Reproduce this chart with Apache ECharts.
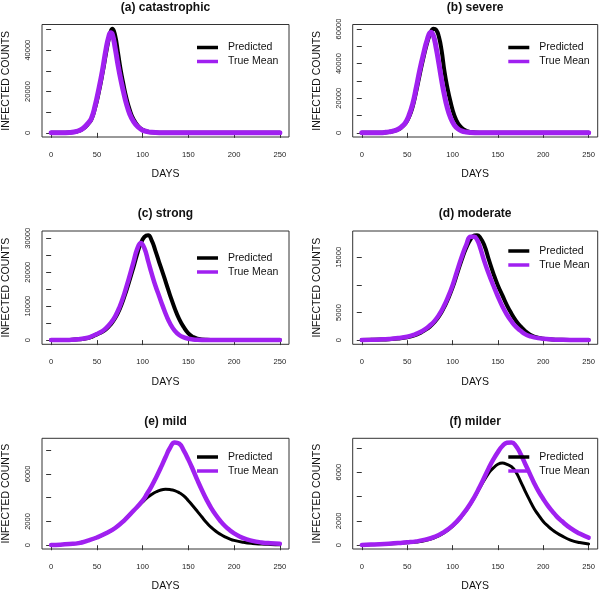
<!DOCTYPE html>
<html><head><meta charset="utf-8">
<script src="https://cdn.jsdelivr.net/npm/echarts@6/dist/echarts.min.js"></script>
<style>html,body{margin:0;padding:0;background:#fff}#c{width:600px;height:593px}</style>
</head><body><div id="c"></div>
<script>
// ---------- DATA ----------
const seriesNames = ['Predicted', 'True Mean'];
const panelTitles = ['(a) catastrophic', '(b) severe', '(c) strong', '(d) moderate', '(e) mild', '(f) milder'];
const xTicks = [0, 50, 100, 150, 200, 250];

const daysA = [0,10,20,25,30,35,40,44,48,52,56,60,63,65,67,70,73,76,79,82,86,90,95,100,105,110,120,130,150,200,250];
const predA = [0,15,130,350,900,2000,4100,6500,12000,19500,28500,38500,45500,49000,50400,47000,39000,30500,23500,17300,11000,6600,3300,1500,650,280,60,12,0,0,0];
const trueA = [0,20,150,400,1000,2200,4500,7000,13000,21000,30000,40500,46500,48400,47500,41000,33000,26000,20000,14500,9000,5500,2800,1300,600,250,50,10,0,0,0];
const yTicksA = [0,10000,20000,30000,40000,50000];
const yLabelsA = [0,20000,40000];

const daysB = [0,10,20,25,30,35,40,44,48,52,56,60,64,68,72,76,79,82,85,88,91,94,98,102,106,110,115,120,130,150,200,250];
const predB = [0,12,90,220,500,1000,1900,3300,5300,9000,15000,24000,34000,43500,52000,58000,60200,59500,55500,47500,36000,27000,17500,10000,5500,2900,1200,500,90,5,0,0];
const trueB = [0,15,100,250,550,1100,2100,3600,5800,10000,16500,26000,36500,45500,53500,58100,56000,49000,40000,30500,22000,15000,8500,4500,2300,1100,450,180,30,0,0,0];
const yTicksB = [0,10000,20000,30000,40000,50000,60000];
const yLabelsB = [0,20000,40000,60000];

const daysC = [0,10,20,30,40,45,50,55,60,65,70,75,80,85,90,94,98,102,106,110,114,118,122,126,130,135,140,145,150,155,160,170,180,200,250];
const predC = [0,10,50,220,600,1050,1700,2300,3200,4600,6500,9200,12800,17000,21500,25300,28500,30400,30900,29300,26300,23000,19800,16500,13200,9400,6200,3800,2000,950,400,70,10,0,0];
const trueC = [0,10,60,250,700,1200,1800,2500,3500,5000,7000,9900,13700,18200,23000,26800,28600,27000,23300,19500,16000,13000,10000,7200,4900,2800,1500,800,400,200,100,20,0,0,0];
const yTicksC = [0,5000,10000,15000,20000,25000,30000];
const yLabelsC = [0,10000,20000,30000];

const daysD = [0,10,20,30,40,50,58,65,70,75,80,85,90,95,100,105,110,115,120,124,127,130,135,140,145,150,155,160,165,170,175,180,185,190,200,210,220,230,250];
const predD = [40,60,100,170,300,520,850,1350,1850,2450,3250,4300,5700,7450,9500,12000,14500,16700,18300,18950,19000,18700,17200,14600,12100,9900,8100,6300,4800,3500,2500,1650,1050,650,280,120,60,30,10];
const trueD = [50,80,130,220,380,620,1000,1500,2000,2650,3450,4550,6000,7800,9900,12500,15000,17200,18700,18700,18200,17000,14300,12000,9900,7900,6100,4600,3400,2400,1700,1100,750,500,250,130,80,50,30];
const yTicksD = [0,5000,10000,15000];
const yLabelsD = [0,5000,15000];

const daysE = [0,10,20,30,40,50,60,70,80,90,100,105,110,115,120,125,130,135,140,145,150,155,160,165,170,175,180,185,190,195,200,210,220,230,240,250];
const predE = [30,50,100,180,390,650,1000,1450,2100,2900,3650,4000,4280,4500,4650,4700,4680,4600,4420,4150,3750,3300,2830,2350,1900,1500,1180,920,710,540,410,250,150,100,70,50];
const trueE = [30,50,100,180,390,650,1000,1450,2100,2900,3750,4350,5000,5750,6550,7400,8200,8650,8550,7950,7200,6350,5450,4600,3820,3130,2540,2040,1620,1280,1000,600,370,240,170,130];
const yTicksE = [0,2000,4000,6000,8000];
const yLabelsE = [0,2000,6000];

const daysF = [0,10,20,30,40,50,60,70,80,90,100,110,120,130,140,145,150,155,160,165,170,175,180,185,190,195,200,205,210,215,220,230,240,250];
const predF = [20,40,70,100,140,190,260,380,600,980,1550,2350,3400,4700,5950,6350,6650,6750,6650,6450,6000,5250,4450,3700,3000,2450,1950,1580,1260,1000,780,420,210,100];
const trueF = [20,50,80,120,170,230,310,450,680,1050,1600,2400,3450,4800,6350,7050,7650,8150,8420,8450,8150,7500,6700,5900,5100,4400,3800,3250,2780,2350,2000,1400,950,620];
const yTicksF = [0,2000,4000,6000,8000];
const yLabelsF = [0,2000,6000];

// ---------- LAYOUT / STYLE ----------
const FONT = '"Liberation Sans", Arial, Helvetica, sans-serif';
const COLORS = ['#000000', '#A020F0'];
const COLS = [{left: 42, width: 247, legendLeft: 197}, {left: 352.7, width: 245, legendLeft: 508.3}];
const ROWS = [
  {top: 24.5, height: 112.5, titleTop: 1.5, legendTops: [41.5, 41.5]},
  {top: 231, height: 113.3, titleTop: 208, legendTops: [252, 245]},
  {top: 438.3, height: 113.4, titleTop: 416, legendTops: [451, 451]}
];

const panels = [
  {days: daysA, pred: predA, truth: trueA, yt: yTicksA, yl: yLabelsA, w: [4, 5]},
  {days: daysB, pred: predB, truth: trueB, yt: yTicksB, yl: yLabelsB, w: [4, 5]},
  {days: daysC, pred: predC, truth: trueC, yt: yTicksC, yl: yLabelsC, w: [4, 4.5]},
  {days: daysD, pred: predD, truth: trueD, yt: yTicksD, yl: yLabelsD, w: [4, 4.5]},
  {days: daysE, pred: predE, truth: trueE, yt: yTicksE, yl: yLabelsE, w: [3, 4.5]},
  {days: daysF, pred: predF, truth: trueF, yt: yTicksF, yl: yLabelsF, w: [3, 4.5]}
];

const grid = [], xAxis = [], yAxis = [], series = [], title = [], legend = [];
panels.forEach((p, i) => {
  const row = ROWS[Math.floor(i / 2)], col = COLS[i % 2];
  grid.push({left: col.left, top: row.top, width: col.width, height: row.height,
    show: true, borderColor: '#333', borderWidth: 1, backgroundColor: 'transparent'});
  const all = p.pred.concat(p.truth);
  const lo = Math.min(...all), hi = Math.max(...all), r = hi - lo;
  xAxis.push({type: 'value', gridIndex: i, min: -10, max: 260,
    axisLine: {show: false}, splitLine: {show: false},
    axisTick: {show: true, inside: false, length: 5, customValues: xTicks, lineStyle: {color: '#333', width: 1}},
    axisLabel: {customValues: xTicks, fontSize: 7.6, margin: 14, color: '#222', fontFamily: FONT},
    name: 'DAYS', nameLocation: 'middle', nameGap: 32,
    nameTextStyle: {fontSize: 10.5, color: '#111', fontFamily: FONT}});
  yAxis.push({type: 'value', gridIndex: i, min: lo - 0.04 * r, max: hi + 0.04 * r,
    axisLine: {show: false}, splitLine: {show: false},
    axisTick: {show: true, inside: false, length: 5, customValues: p.yt, lineStyle: {color: '#333', width: 1}},
    axisLabel: {customValues: p.yl, rotate: 90, fontSize: 7.5, margin: 10, color: '#222',
      fontFamily: FONT, formatter: v => String(v)},
    name: 'INFECTED COUNTS', nameLocation: 'middle', nameGap: 30,
    nameTextStyle: {fontSize: 10.5, color: '#111', fontFamily: FONT}});
  [p.pred, p.truth].forEach((vals, k) => {
    series.push({type: 'line', name: seriesNames[k], xAxisIndex: i, yAxisIndex: i,
      data: p.days.map((d, j) => [d, vals[j]]),
      showSymbol: false, symbol: 'none', smooth: 0.5,
      color: COLORS[k], lineStyle: {color: COLORS[k], width: p.w[k], cap: 'round', join: 'round'},
      silent: true, z: 2 + k});
  });
  title.push({text: panelTitles[i], left: col.left + col.width / 2, textAlign: 'center',
    top: row.titleTop, padding: 0,
    textStyle: {fontSize: 12, fontWeight: 'bold', color: '#111', fontFamily: FONT}});
  legend.push({left: col.legendLeft, top: row.legendTops[i % 2], orient: 'vertical',
    data: seriesNames, icon: 'rect', itemWidth: 21, itemHeight: 3.5, itemGap: 2, padding: 0,
    selectedMode: false,
    textStyle: {fontSize: 10.5, lineHeight: 12, color: '#111', fontFamily: FONT, padding: [0, 0, 0, 5]}});
});

const chart = echarts.init(document.getElementById('c'), null, {renderer: 'canvas'});
chart.setOption({animation: false, backgroundColor: '#fff', title, legend, grid, xAxis, yAxis, series});
</script>
</body></html>
